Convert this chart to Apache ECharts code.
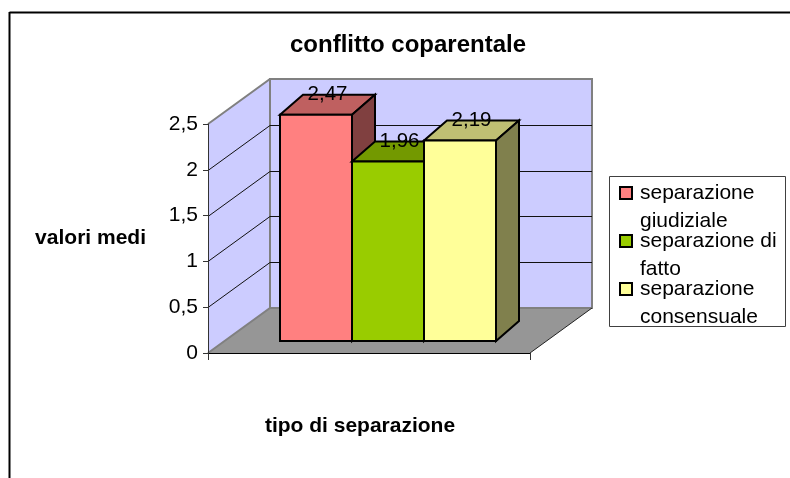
<!DOCTYPE html>
<html><head><meta charset="utf-8">
<style>html,body{margin:0;padding:0;background:#fff}#c{width:790px;height:478px}</style>
<script src="https://cdn.jsdelivr.net/npm/echarts@6/dist/echarts.min.js"></script>
</head><body><div id="c"></div>
<script>
const categories = [''];
const seriesNames = ['separazione\ngiudiziale', 'separazione di\nfatto', 'separazione\nconsensuale'];
const seriesValues = [2.47, 1.96, 2.19];
const valueLabels = ['2,47', '1,96', '2,19'];
const gridTicks = [0.5, 1, 1.5, 2];
const frontColors = ['#FF8080', '#99CC00', '#FFFF99'];
const topColors = ['#BF6060', '#739900', '#BFBF73'];
const sideColors = ['#804040', '#4D6600', '#80804D'];

const FONT = '"Liberation Sans", Arial, sans-serif';
const WALL = {dx: 62, dy: -45};
const BAR = {w: 72, dx: 23, dy: -20, insetX: 19, insetY: -12};

function poly(points, fill, stroke, width, z2) {
  return {type: 'polygon', z2: z2, shape: {points: points},
    style: {fill: fill, stroke: stroke, lineWidth: width, lineJoin: 'miter'}};
}
function line(points, stroke, width, z2) {
  return {type: 'polyline', z2: z2, shape: {points: points},
    style: {fill: 'none', stroke: stroke, lineWidth: width}};
}

function renderWalls(params, api) {
  const c = api.coord([0, 0]);
  const t = api.coord([0, 2.5]);
  const hw = api.size([1, 0])[0] / 2;
  const L = c[0] - hw, R = c[0] + hw, B = c[1], T = t[1];
  const d = WALL;
  return {type: 'group', children: [
    poly([[L + d.dx, T + d.dy], [R + d.dx, T + d.dy], [R + d.dx, B + d.dy], [L + d.dx, B + d.dy]], '#CCCCFF', '#808080', 2, 1),
    poly([[L, T], [L + d.dx, T + d.dy], [L + d.dx, B + d.dy], [L, B]], '#CCCCFF', null, 0, 1),
    poly([[L, B], [L + d.dx, B + d.dy], [R + d.dx, B + d.dy], [R, B]], '#969696', null, 0, 3),
    line([[L, T], [L + d.dx, T + d.dy], [R + d.dx, T + d.dy], [R + d.dx, B + d.dy]], '#808080', 2, 2),
    line([[L + d.dx, T + d.dy], [L + d.dx, B + d.dy]], '#808080', 2, 2),
    line([[L, B], [L + d.dx, B + d.dy], [R + d.dx, B + d.dy]], '#808080', 2, 3),
    line([[R, B], [R + d.dx, B + d.dy]], '#222', 1, 4)
  ]};
}

function renderGrid(params, api) {
  const p = api.coord([0, api.value(1)]);
  const hw = api.size([1, 0])[0] / 2;
  const L = p[0] - hw, R = p[0] + hw, y = Math.round(p[1]) + 0.5;
  const d = WALL;
  return line([[L, y], [L + d.dx, y + d.dy], [R + d.dx, y + d.dy]], '#111', 1, 2);
}

function makeBarRenderer(i) {
  return function (params, api) {
    const base = api.coord([0, 0]);
    const top = api.coord([0, api.value(1)]);
    const x0 = base[0] - BAR.w * 3 / 2 + BAR.w * i + BAR.insetX;
    const x1 = x0 + BAR.w;
    const yB = base[1] + BAR.insetY;
    const yT = top[1] + BAR.insetY;
    const dx = BAR.dx, dy = BAR.dy;
    const z = 10 + i;
    return {type: 'group', children: [
      poly([[x0, yT], [x1, yT], [x1 + dx, yT + dy], [x0 + dx, yT + dy]], topColors[i], '#000', 2, z),
      poly([[x1, yT], [x1 + dx, yT + dy], [x1 + dx, yB + dy], [x1, yB]], sideColors[i], '#000', 2, z),
      poly([[x0, yT], [x1, yT], [x1, yB], [x0, yB]], frontColors[i], '#000', 2, z),
      {type: 'text', z2: 50, style: {
        x: x0 + (BAR.w + dx) / 2, y: yT + dy, text: valueLabels[i],
        fill: '#000', font: '20.5px ' + FONT, align: 'center', verticalAlign: 'middle'
      }}
    ]};
  };
}

const barSeries = seriesNames.map((name, i) => ({
  name: name, type: 'custom', z: 2, silent: true, clip: false,
  coordinateSystem: 'cartesian2d',
  encode: {x: 0, y: 1},
  itemStyle: {color: frontColors[i]},
  data: [[0, seriesValues[i]]],
  renderItem: makeBarRenderer(i)
}));

const option = {
  animation: false,
  backgroundColor: '#fff',
  textStyle: {fontFamily: FONT},
  title: {
    text: 'conflitto coparentale', left: 403, top: 28, textAlign: 'center',
    textStyle: {fontFamily: FONT, fontWeight: 'bold', fontSize: 24, color: '#000'}
  },
  grid: {left: 208, top: 124, width: 322, height: 229},
  xAxis: {
    type: 'category', data: categories, boundaryGap: true, z: 6,
    name: 'tipo di separazione', nameLocation: 'middle', nameGap: 63,
    nameTextStyle: {fontFamily: FONT, fontWeight: 'bold', fontSize: 21, color: '#000', padding: [0, 18, 0, 0]},
    axisLine: {lineStyle: {color: '#000', width: 1}},
    axisTick: {show: true, length: 7, alignWithLabel: false, lineStyle: {color: '#333'}},
    axisLabel: {show: false}, splitLine: {show: false}
  },
  yAxis: {
    type: 'value', min: 0, max: 2.5, interval: 0.5, z: 6,
    name: 'valori medi', nameLocation: 'middle', nameRotate: 0, nameGap: 62,
    nameTextStyle: {fontFamily: FONT, fontWeight: 'bold', fontSize: 21, color: '#000'},
    axisLine: {show: true, lineStyle: {color: '#333', width: 1}},
    axisTick: {show: true, length: 5, lineStyle: {color: '#333'}},
    axisLabel: {margin: 10, fontFamily: FONT, fontSize: 21, color: '#000',
      formatter: v => String(v).replace('.', ',')},
    splitLine: {show: false}
  },
  legend: {
    orient: 'vertical', left: 614, top: 146,
    data: seriesNames, itemWidth: 12, itemHeight: 12, itemGap: -36,
    selectedMode: false, icon: 'rect',
    itemStyle: {borderColor: '#000', borderWidth: 2},
    formatter: n => '\n' + n,
    textStyle: {fontFamily: FONT, fontSize: 21, lineHeight: 28, color: '#000', padding: [0, 0, 0, 3]}
  },
  graphic: [
    {type: 'line', silent: true, shape: {x1: 9.5, y1: 12.5, x2: 790, y2: 12.5}, style: {stroke: '#000', lineWidth: 2}},
    {type: 'line', silent: true, shape: {x1: 9.5, y1: 12, x2: 9.5, y2: 478}, style: {stroke: '#000', lineWidth: 2}},
    {type: 'rect', silent: true, shape: {x: 609.5, y: 176.5, width: 176, height: 150}, style: {fill: 'none', stroke: '#404040', lineWidth: 1}}
  ],
  series: [
    {name: 'walls', type: 'custom', z: 2, silent: true, clip: false, encode: {x: 0, y: 1},
      data: [[0, 0]], renderItem: renderWalls},
    {name: 'griglia', type: 'custom', z: 2, silent: true, clip: false, encode: {x: 0, y: 1},
      data: gridTicks.map(v => [0, v]), renderItem: renderGrid}
  ].concat(barSeries)
};
echarts.init(document.getElementById('c'), null, {renderer: 'canvas'}).setOption(option);
</script></body></html>
